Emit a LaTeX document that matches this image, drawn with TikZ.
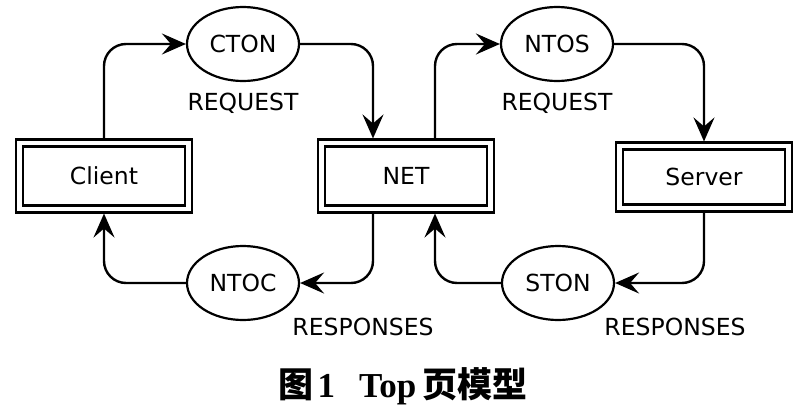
\documentclass[tikz,border=0pt]{standalone}
\usepackage{fontspec}
\usetikzlibrary{positioning, arrows.meta, shapes.geometric}
\newfontfamily\diagfont{DejaVu Sans}
\newfontfamily\capfont{Liberation Serif}
\newfontfamily\cjk{Noto Sans CJK SC}

\begin{document}
\begin{tikzpicture}[x=1pt, y=-1pt, on grid,
   box/.style={rectangle, draw, line width=2.4pt, double=white, double distance=4.3pt,
      minimum width=169pt, minimum height=66pt, outer sep=4.55pt},
   chan/.style={ellipse, draw, line width=2.2pt, minimum width=112pt, minimum height=74pt, inner sep=0pt},
   txt/.style={font=\diagfont\fontsize{23.5}{28}\selectfont},
   >={Stealth[length=24pt, width=21pt, inset=9pt]},
   flow/.style={->, line width=2.4pt, rounded corners=22pt}]
   \useasboundingbox (0,0) rectangle (811,415);

   % Hosts
   \node[box, txt] (client) at (104,176) {Client};
   \node[box, txt] (net) [right=302pt of client] {NET};
   \node[box, txt, minimum height=62pt] (server) [right=298pt of net, yshift=-1pt] {Server};

   % Channels
   \node[chan, txt] (cton) [above right=132pt and 139pt of client] {CTON};
   \node[chan, txt] (ntos) [right=314pt of cton] {NTOS};
   \node[chan, txt] (ntoc) [below=239pt of cton] {NTOC};
   \node[chan, txt] (ston) [right=315pt of ntoc] {STON};

   % Annotations
   \node[txt] (req1) [below=59pt of cton] {REQUEST};
   \node[txt] (req2) [below=59pt of ntos] {REQUEST};
   \node[txt] (resp1) [below right=44pt and 120pt of ntoc] {RESPONSES};
   \node[txt] (resp2) [below right=44pt and 117pt of ston] {RESPONSES};

   % Requests
   \draw[flow] (client.north) |- (cton.west);
   \draw[flow] (cton.east) -| ([xshift=-33pt]net.north);
   \draw[flow] ([xshift=29pt]net.north) |- (ntos.west);
   \draw[flow] (ntos.east) -| (server.north);

   % Responses
   \draw[flow] (server.south) |- (ston.east);
   \draw[flow] (ston.west) -| ([xshift=29pt]net.south);
   \draw[flow] ([xshift=-33pt]net.south) |- (ntoc.east);
   \draw[flow] (ntoc.west) -| (client.south);

   % Caption
   \node[font=\capfont\bfseries\fontsize{35}{40}\selectfont] (caption) at (403,386)
      {{\cjk 图}\hspace{4pt}1\hspace{24pt}Top\hspace{6pt}{\cjk 页模型}};
\end{tikzpicture}
\end{document}
